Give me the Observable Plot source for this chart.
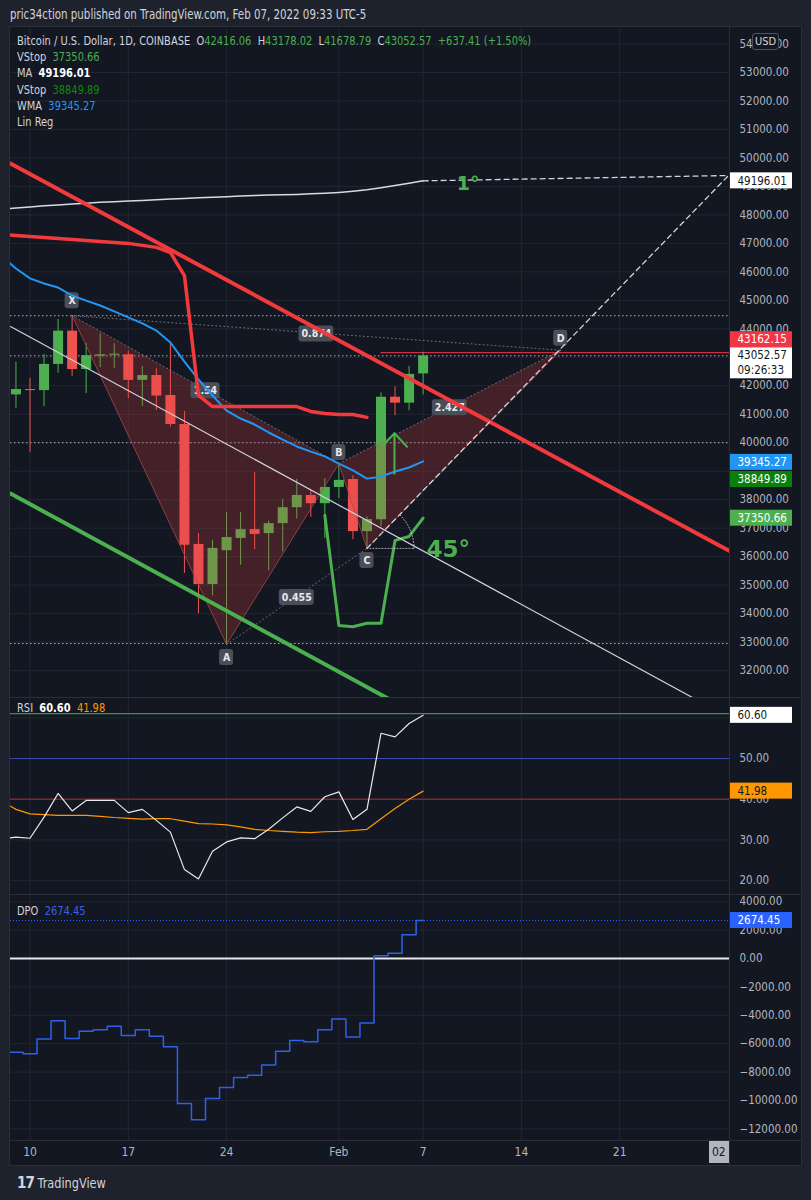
<!DOCTYPE html>
<html>
<head>
<meta charset="utf-8">
<script src="https://cdn.jsdelivr.net/npm/d3@7"></script>
<script src="https://cdn.jsdelivr.net/npm/@observablehq/plot@0.6"></script>
<style>
  html,body{margin:0;padding:0;background:#1e222d;}
  #wrap{position:relative;width:811px;height:1200px;background:#1e222d;overflow:hidden;
        font-family:"DejaVu Sans Condensed","DejaVu Sans",sans-serif;color:#d1d4dc;}
  .a{position:absolute;white-space:nowrap;line-height:1;}
  .leg{font-size:13px;color:#d1d4dc;transform:scaleX(0.845);transform-origin:0 0;}
  .g{color:#4caf50;}
  .sep{position:absolute;background:#2a2e39;}
  svg{position:absolute;}
</style>
</head>
<body>
<div id="wrap">
  <div class="a leg" style="left:10px;top:8px;font-size:13.5px;">pric34ction published on TradingView.com, Feb 07, 2022 09:33 UTC-5</div>
  <div class="a" style="left:9px;top:26px;width:791px;height:1138px;background:#131722;border:1px solid #2a2e39;"></div>
</div>
<script>
// ---------------- DATA ----------------
const dates = ["2022-01-08","2022-01-09","2022-01-10","2022-01-11","2022-01-12","2022-01-13","2022-01-14","2022-01-15","2022-01-16","2022-01-17","2022-01-18","2022-01-19","2022-01-20","2022-01-21","2022-01-22","2022-01-23","2022-01-24","2022-01-25","2022-01-26","2022-01-27","2022-01-28","2022-01-29","2022-01-30","2022-01-31","2022-02-01","2022-02-02","2022-02-03","2022-02-04","2022-02-05","2022-02-06","2022-02-07"];

// candles Jan 9 .. Feb 7
const candleDates = dates.slice(1);
const open  = [41680,41870,41830,42750,43920,42570,43040,43070,43090,42190,42360,41660,40640,36430,35020,36210,36640,36950,36810,37160,37720,38150,37860,38430,38710,36880,37300,41600,41390,42416.06];
const high  = [42830,42260,43100,44330,44460,43480,43830,43480,43210,42680,42600,43530,41100,36810,36570,37550,37550,38950,37250,38000,38720,38330,38740,39270,38840,37400,41750,41970,42680,43178.02];
const low   = [41210,39660,41270,42440,42330,41730,42640,42600,41550,41270,41130,40550,35410,34000,34620,32920,35700,36250,35500,36170,37320,37380,36640,38040,36600,36290,37050,40950,41120,41678.79];
const close = [41870,41830,42750,43920,42570,43060,43090,43110,42190,42360,41640,40640,36400,35020,36290,36670,36950,36780,37160,37720,38150,37860,38430,38680,36880,37300,41600,41390,42400,43052.57];

// indicators, Jan 8 .. Feb 7
const maVals  = [48200,48240,48280,48320,48350,48380,48410,48440,48460,48490,48510,48530,48560,48580,48600,48620,48640,48660,48680,48700,48710,48720,48740,48760,48790,48830,48880,48950,49030,49110,49196.01];
const wmaVals = [46540,46120,45770,45590,45450,45170,44990,44820,44610,44400,44190,43940,43520,42850,42220,41660,41130,40850,40640,40360,40110,39870,39690,39520,39270,39030,38740,38810,38990,39130,39345.27];
const rsiVals   = [30.2,30.7,30.4,35.6,41.4,37.1,39.7,39.7,39.7,36.7,37.5,34.8,31.9,22.7,20.4,27.2,29.5,30.5,30.3,32.6,35.4,38.1,37.0,40.6,41.8,35.0,37.5,56.2,55.3,58.6,60.60];
const rsiMaVals = [39.5,37.5,36.4,36.2,36.0,36.0,36.0,35.8,35.5,35.3,35.1,35.2,35.2,34.6,34.0,33.9,33.7,33.2,32.6,32.3,32.1,31.9,31.8,32.0,32.1,32.3,32.6,35.2,37.7,40.0,41.98];
const dpoVals = [-6594,-6594,-6710,-5662,-4380,-5638,-5126,-5009,-4776,-5429,-5009,-5475,-6221,-10205,-11347,-9856,-9087,-8388,-8225,-7502,-6524,-5778,-5871,-5009,-4264,-5522,-4543,186,373,1678,2674.45];

// volatility stops
const vstopRedDates = dates.slice(0, 27);   // Jan 8 .. Feb 3
const vstopRedVals  = [47310,47280,47240,47210,47170,47140,47100,47070,47030,47000,46930,46860,46680,45870,41660,41270,41270,41270,41270,41270,41270,41270,41100,41030,40990,40990,40890];
const vstopGreenDates = dates.slice(23);    // Jan 31 .. Feb 7
const vstopGreenVals  = [37450,33580,33540,33660,33660,36570,36710,37350.66];
const vstop2Last = 38849.89;

// XABCD pattern
const patternNames  = ["X","A","B","C","D"];
const patternTimes  = ["2022-01-13T00:00:00Z","2022-01-24T00:00:00Z","2022-02-01T00:00:00Z","2022-02-03T00:00:00Z","2022-02-16T19:12:00Z"];
const patternPrices = [44460,32920,39270,36290,43250];
const ratioLabels = ["1.54","0.455","2.427","0.874"];
const ratioFrom   = ["X","A","B","X"];
const ratioTo     = ["B","C","D","D"];

// trend lines (channel)
const trendNames       = ["white","red","green"];
const trendStartTimes  = ["2022-01-08T14:38:00Z","2022-01-08T14:38:00Z","2022-01-08T14:38:00Z"];
const trendStartPrices = [44080,49805,38218];
const trendEndTimes    = ["2022-02-27T00:00:00Z","2022-03-01T00:00:00Z","2022-02-09T00:00:00Z"];
const trendEndPrices   = [30835,36150,29815];

// angle drawings
const angleEndTime = "2022-02-28T18:00:00Z", angleEndPrice = 49383;
const oneDegStartTime = "2022-02-07T00:00:00Z", oneDegStartPrice = 49196.01;
const angleTexts = ["45°","1°"];
const angleTextTimes = ["2022-02-08T19:00:00Z","2022-02-10T05:00:00Z"];
const angleTextPrices = [36250,49080];

// green arrow drawing
const arrowShaftTimes  = ["2022-02-04T23:00:00Z","2022-02-04T23:00:00Z"];
const arrowShaftPrices = [38910,40335];
const arrowHeadTimes   = ["2022-02-04T02:30:00Z","2022-02-04T23:00:00Z","2022-02-05T20:30:00Z"];
const arrowHeadPrices  = [39890,40335,39860];

// horizontal levels
const dottedLevels = [44460,43052.57,40000,32950];
const redLevel = 43162.15, redLevelStart = "2022-02-04T00:00:00Z";
const rsiLevels = [61.0,50,40];

// ticks (labels fully hidden under price tags are left out)
const priceTicks = d3.range(32000, 54001, 1000);
const priceTickLabels = priceTicks.filter(v => v !== 43000 && v !== 39000);
const rsiTicks = [20,30,40,50,60];
const rsiTickLabels = [20,30,40,50];
const dpoTicks = d3.range(-12000, 4001, 2000);
const timeTicks = ["2022-01-10","2022-01-17","2022-01-24","2022-02-01","2022-02-07","2022-02-14","2022-02-21"];
const timeTickLabels = ["10","17","24","Feb","7","14","21"];

// ---------------- BUILD ----------------
const P = s => new Date(s.length === 10 ? s + "T00:00:00Z" : s);
const DAY = 864e5, T0 = Date.UTC(2022,0,10);
const X0 = new Date(T0 - 1.389*DAY), X1 = new Date(T0 + 49.893*DAY);
const FONT = '"DejaVu Sans Condensed","DejaVu Sans",sans-serif';
const UP = "#4caf50", DOWN = "#ef5350", AXC = "#b2b5be", GRID = "#222633", FS = 11.5;
const style = {background:"transparent", color:AXC, fontFamily:FONT, fontSize:"12px", overflow:"visible"};

const candles = candleDates.map((d,i)=>({t:P(d), o:open[i], h:high[i], l:low[i], c:close[i]}));
const series = vals => vals.map((v,i)=>({t:P(dates[i]), v}));
const pts = Object.fromEntries(patternNames.map((n,i)=>[n,{n, t:P(patternTimes[i]), p:patternPrices[i]}]));
const gridDates = timeTicks.map(P);

function tag(v, label, bg, fg, {dy=0, h=16, extra=null}={}) {
  const d = [{x:X1, v}];
  const m = [
    Plot.rect(d, {x1:"x", x2:"x", y1:"v", y2:"v", insetLeft:0, insetRight:-62,
      insetTop: extra ? -8 : -h/2 + dy, insetBottom: extra ? -23 : -h/2 - dy, fill:bg}),
    Plot.text(d, {x:"x", y:"v", text:()=>label, dx:7, dy, textAnchor:"start", fill:fg, fontSize:FS})
  ];
  if (extra) m.push(Plot.text(d, {x:"x", y:"v", text:()=>extra, dx:7, dy:15, textAnchor:"start", fill:fg, fontSize:FS}));
  return m;
}
function axisLabels(ticks) {
  return Plot.text(ticks, {x:()=>X1, y:d=>d, text:d=>d3.format(".2f")(d).replace("-", "\u2212"), dx:9, textAnchor:"start", fill:AXC, fontSize:FS});
}
function vGrid() { return Plot.ruleX(gridDates, {stroke:GRID, strokeWidth:1}); }
function labelBox(d, text, dy, w) {
  const a = [{t:d.t, p:d.p}];
  return [
    Plot.rect(a, {x1:"t", x2:"t", y1:"p", y2:"p", insetLeft:-w/2, insetRight:-w/2, insetTop:-8+dy, insetBottom:-8-dy, fill:"#4a4e59", rx:3}),
    Plot.text(a, {x:"t", y:"p", text:()=>text, dy, fill:"#e8e9ee", fontSize:10.5, fontWeight:"bold"})
  ];
}

// ---- price pane ----
const tri = [
  ...["X","A","B"].map(n=>({...pts[n], k:"XAB"})),
  ...["B","C","D"].map(n=>({...pts[n], k:"BCD"}))
];
const ratioLines = ratioLabels.flatMap((r,i)=>[{...pts[ratioFrom[i]], k:r}, {...pts[ratioTo[i]], k:r}]);
const ratioMids = ratioLabels.map((r,i)=>{
  const a = pts[ratioFrom[i]], b = pts[ratioTo[i]];
  return {r, t:new Date((+a.t + +b.t)/2), p:(a.p+b.p)/2};
});
const trends = trendNames.flatMap((n,i)=>[{k:n, t:P(trendStartTimes[i]), p:trendStartPrices[i]}, {k:n, t:P(trendEndTimes[i]), p:trendEndPrices[i]}]);
const trendColor = {white:"#d1d4dc", red:"#f23a3c", green:"#4caf50"};
const trendWidth = {white:1.2, red:4, green:4};
const angleLines = [
  {k:"a45", t:pts.C.t, p:pts.C.p}, {k:"a45", t:P(angleEndTime), p:angleEndPrice},
  {k:"a1", t:P(oneDegStartTime), p:oneDegStartPrice}, {k:"a1", t:P(angleEndTime), p:angleEndPrice}
];
// 45° arc around C, radius expressed in data units (3.35 days, 1650 USD)
const arc = d3.range(0, 46, 5).map(a=>({t:new Date(+pts.C.t + 3.35*DAY*Math.cos(a*Math.PI/180)), p:pts.C.p + 1650*Math.sin(a*Math.PI/180)}));
const cFlat = [{t:pts.C.t, p:pts.C.p}, {t:new Date(+pts.C.t + 3.35*DAY), p:pts.C.p}];
const arrow = [
  ...arrowShaftTimes.map((t,i)=>({k:"s", t:P(t), p:arrowShaftPrices[i]})),
  ...arrowHeadTimes.map((t,i)=>({k:"h", t:P(t), p:arrowHeadPrices[i]}))
];
const angleLabelData = angleTexts.map((s,i)=>({s, t:P(angleTextTimes[i]), p:angleTextPrices[i]}));

const pricePlot = Plot.plot({
  width:792, height:670, marginLeft:0, marginRight:72, marginTop:0, marginBottom:0,
  x:{type:"utc", domain:[X0,X1], axis:null},
  y:{domain:[31055,54580], axis:null},
  color:{type:"identity"},
  style,
  marks:[
    Plot.ruleY(priceTicks, {stroke:GRID}),
    vGrid(),
    Plot.ruleY(dottedLevels, {stroke:"#d1d4dc", strokeOpacity:0.8, strokeDasharray:"1.5,2.5"}),
    Plot.ruleY([{v:redLevel, a:P(redLevelStart)}], {y:"v", x1:"a", x2:()=>X1, stroke:"#f23645", strokeWidth:1}),
    Plot.ruleX(candles, {x:"t", y1:"l", y2:"h", stroke:d=>d.c>=d.o?UP:DOWN, strokeWidth:1}),
    Plot.ruleX(candles, {x:"t", y1:"o", y2:"c", stroke:d=>d.c>=d.o?UP:DOWN, strokeWidth:10}),
    Plot.line(tri, {x:"t", y:"p", z:"k", fill:"#e0413f", fillOpacity:0.24, stroke:"#a8474d", strokeOpacity:0.8, strokeWidth:1}),
    Plot.line(ratioLines, {x:"t", y:"p", z:"k", stroke:"#9598a1", strokeOpacity:0.7, strokeWidth:1, strokeDasharray:"1,3"}),
    ...labelBox(pts.X, "X", -15, 14),
    ...labelBox(pts.A, "A", 13, 14),
    ...labelBox(pts.B, "B", -11, 14),
    ...labelBox(pts.C, "C", 12, 14),
    ...labelBox(pts.D, "D", -12, 14),
    ...ratioMids.flatMap(m=>labelBox(m, m.r, 1, m.r.length*6+5)),
    Plot.line(series(maVals), {x:"t", y:"v", stroke:"#d8dbe2", strokeWidth:1.5, clip:true}),
    Plot.line(series(wmaVals), {x:"t", y:"v", stroke:"#2196f3", strokeWidth:2, clip:true}),
    Plot.line(vstopRedVals.map((v,i)=>({t:P(vstopRedDates[i]), v})), {x:"t", y:"v", stroke:"#f23a3c", strokeWidth:3.5, clip:true}),
    Plot.line(vstopGreenVals.map((v,i)=>({t:P(vstopGreenDates[i]), v})), {x:"t", y:"v", stroke:"#4caf50", strokeWidth:3, clip:true}),
    Plot.line(trends, {x:"t", y:"p", z:"k", stroke:d=>trendColor[d.k], strokeWidth:d=>trendWidth[d.k], clip:true}),
    Plot.line(angleLines, {x:"t", y:"p", z:"k", stroke:"#d1d4dc", strokeWidth:1.3, strokeDasharray:"5,4", clip:true}),
    Plot.line(cFlat, {x:"t", y:"p", stroke:"#d1d4dc", strokeWidth:1, strokeDasharray:"1,2", strokeOpacity:0.8}),
    Plot.line(arc, {x:"t", y:"p", stroke:"#d1d4dc", strokeWidth:1, strokeDasharray:"1,2", strokeOpacity:0.8}),
    Plot.line(arrow, {x:"t", y:"p", z:"k", stroke:"#4caf50", strokeWidth:2}),
    Plot.text(angleLabelData, {x:"t", y:"p", text:"s", fill:"#4caf50", fontSize:d=>d.s==="1°"?19:23, fontWeight:"bold", fontFamily:"DejaVu Sans"}),
    axisLabels(priceTickLabels),
    ...tag(maVals[maVals.length-1], "49196.01", "#ffffff", "#131722"),
    ...tag(redLevel, "43162.15", "#f23645", "#ffffff", {dy:-13}),
    ...tag(close[close.length-1], "43052.57", "#ffffff", "#131722", {extra:"09:26:33"}),
    ...tag(wmaVals[wmaVals.length-1], "39345.27", "#2196f3", "#ffffff", {dy:1}),
    ...tag(vstop2Last, "38849.89", "#0a800a", "#ffffff", {dy:4}),
    ...tag(vstopGreenVals[vstopGreenVals.length-1], "37350.66", "#4caf50", "#ffffff")
  ]
});

// ---- RSI pane ----
const rsiPlot = Plot.plot({
  width:792, height:196, marginLeft:0, marginRight:72, marginTop:0, marginBottom:0,
  x:{type:"utc", domain:[X0,X1], axis:null},
  y:{domain:[16.58,64.74], axis:null},
  color:{type:"identity"},
  style,
  marks:[
    Plot.ruleY(rsiTicks, {stroke:GRID}),
    vGrid(),
    Plot.ruleY(rsiLevels, {stroke:d=>d>55?"#4caf50":d>45?"#3f4db5":"#b22833", strokeWidth:1}),
    Plot.line(series(rsiMaVals), {x:"t", y:"v", stroke:"#ff9800", strokeWidth:1.2, clip:true}),
    Plot.line(series(rsiVals), {x:"t", y:"v", stroke:"#e8e9ee", strokeWidth:1.2, clip:true}),
    axisLabels(rsiTickLabels),
    ...tag(rsiVals[rsiVals.length-1], "60.60", "#ffffff", "#131722"),
    ...tag(rsiMaVals[rsiMaVals.length-1], "41.98", "#ff9800", "#131722")
  ]
});

// ---- DPO pane + time axis ----
const dpoPlot = Plot.plot({
  width:792, height:271, marginLeft:0, marginRight:72, marginTop:0, marginBottom:26,
  x:{type:"utc", domain:[X0,X1], axis:null},
  y:{domain:[-12817,4437], axis:null},
  color:{type:"identity"},
  style,
  marks:[
    Plot.ruleY(dpoTicks, {stroke:GRID}),
    vGrid(),
    Plot.ruleY([0], {stroke:"#e8e9ee", strokeWidth:2}),
    Plot.ruleY([dpoVals[dpoVals.length-1]], {stroke:"#2962ff", strokeDasharray:"1,2", strokeWidth:1}),
    Plot.line(series(dpoVals), {x:"t", y:"v", curve:"step", stroke:"#3060e8", strokeWidth:1.5, clip:true}),
    axisLabels(dpoTicks),
    ...tag(dpoVals[dpoVals.length-1], "2674.45", "#2962ff", "#ffffff"),
    Plot.text(gridDates, {x:d=>d, y:()=>-12817, text:(d,i)=>timeTickLabels[i], dy:12, fill:AXC, fontSize:12})
  ]
});

const wrap = document.getElementById("wrap");
function place(el, left, top){ el.style.left = left+"px"; el.style.top = top+"px"; wrap.appendChild(el); }
place(pricePlot, 10, 27);
place(rsiPlot, 10, 698);
place(dpoPlot, 10, 895);

function div(html, css, cls="a"){ const d=document.createElement("div"); d.className=cls; d.style.cssText=css; d.innerHTML=html; wrap.appendChild(d); return d; }
// separators
div("", "left:9px;top:697px;width:793px;height:1px;", "sep");
div("", "left:9px;top:894px;width:793px;height:1px;", "sep");
div("", "left:9px;top:1140px;width:793px;height:1px;", "sep");
div("", "left:729px;top:26px;width:1px;height:1140px;", "sep");

// legends
const last = close.length-1;
div(`Bitcoin / U.S. Dollar, 1D, COINBASE&nbsp; O<span class="g">${open[last].toFixed(2)}</span>&nbsp; H<span class="g">${high[last].toFixed(2)}</span>&nbsp; L<span class="g">${low[last].toFixed(2)}</span>&nbsp; C<span class="g">${close[last].toFixed(2)}</span>&nbsp; <span class="g">+637.41 (+1.50%)</span>`, "left:17px;top:34px;", "a leg");
div(`VStop&nbsp; <span class="g">${vstopGreenVals[vstopGreenVals.length-1].toFixed(2)}</span>`, "left:17px;top:50px;", "a leg");
div(`MA&nbsp; <b style="color:#fff">${maVals[maVals.length-1].toFixed(2)}</b>`, "left:17px;top:66px;", "a leg");
div(`VStop&nbsp; <span style="color:#0c8a0c">${vstop2Last.toFixed(2)}</span>`, "left:17px;top:83px;", "a leg");
div(`WMA&nbsp; <span style="color:#2196f3">${wmaVals[wmaVals.length-1].toFixed(2)}</span>`, "left:17px;top:99px;", "a leg");
div(`Lin Reg`, "left:17px;top:115px;", "a leg");
div(`RSI&nbsp; <b style="color:#fff">${rsiVals[rsiVals.length-1].toFixed(2)}</b>&nbsp; <span style="color:#ff9800">${rsiMaVals[rsiMaVals.length-1].toFixed(2)}</span>`, "left:17px;top:701px;", "a leg");
div(`DPO&nbsp; <span style="color:#3a62e8">${dpoVals[dpoVals.length-1].toFixed(2)}</span>`, "left:17px;top:904px;", "a leg");

// USD box
div("USD", "left:752px;top:33px;width:25px;height:15px;line-height:15px;text-align:center;font-size:11px;color:#d1d4dc;background:#131722;border:1px solid #50535e;border-radius:3px;");
// time axis end box
div("02", "left:709px;top:1141px;width:20px;height:22px;line-height:22px;overflow:hidden;font-size:12px;color:#131722;background:#b2b5be;text-indent:3px;");
// footer logo
div(`<span style="font-weight:900;font-size:15px;letter-spacing:-1px;font-family:'DejaVu Sans',sans-serif">17</span> TradingView`, "left:17px;top:1176px;font-size:14px;color:#d1d4dc;transform:scaleX(0.9);transform-origin:0 0;");
</script>
</body>
</html>
